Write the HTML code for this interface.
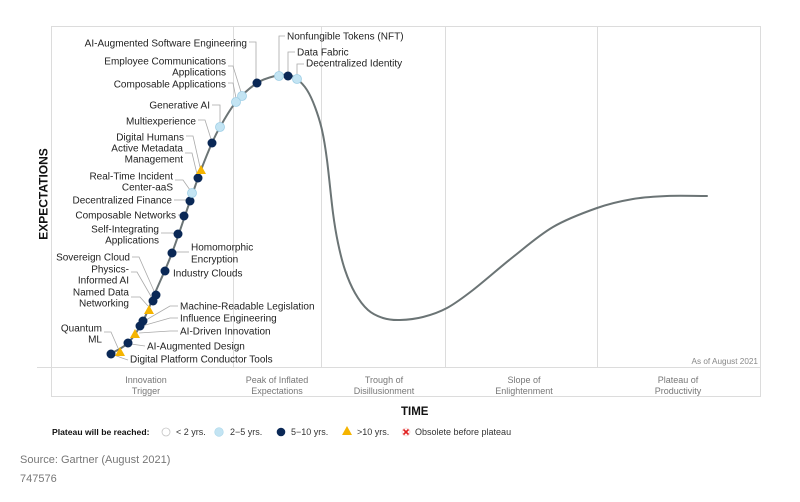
<!DOCTYPE html>
<html><head><meta charset="utf-8">
<style>
html,body{margin:0;padding:0;background:#fff;}
svg{display:block;font-family:"Liberation Sans",Arial,sans-serif;}
.l{font-size:10px;fill:#222;}
.ph{font-size:9px;fill:#777;}
.ld{stroke:#a9a9a9;stroke-width:0.8;fill:none;}
.n{fill:#0a2856;}
.c{fill:#c3e4f3;stroke:#9fcfe6;stroke-width:0.8;}
.t{fill:#f5b400;}
.lg{font-size:9px;fill:#333;}
</style></head>
<body>
<svg width="800" height="502" viewBox="0 0 800 502" xmlns="http://www.w3.org/2000/svg">
<!-- frame -->
<g stroke="#dcdcdc" stroke-width="1" fill="none">
<line x1="51" y1="26.5" x2="761" y2="26.5"/>
<line x1="51.5" y1="26" x2="51.5" y2="397"/>
<line x1="760.5" y1="26" x2="760.5" y2="397"/>
<line x1="37" y1="367.5" x2="761" y2="367.5"/>
<line x1="51" y1="396.5" x2="761" y2="396.5"/>
<line x1="233.5" y1="26" x2="233.5" y2="367"/>
<line x1="321.5" y1="26" x2="321.5" y2="367"/>
<line x1="445.5" y1="26" x2="445.5" y2="367"/>
<line x1="597.5" y1="26" x2="597.5" y2="367"/>
</g>
<!-- axis labels -->
<text x="0" y="0" transform="translate(47.5,194) rotate(-90)" text-anchor="middle" font-size="12" font-weight="bold" fill="#111">EXPECTATIONS</text>
<text x="401" y="415" font-size="11.5" font-weight="bold" fill="#111">TIME</text>
<text x="758" y="364" text-anchor="end" font-size="8.2" fill="#888">As of August 2021</text>
<!-- phase labels -->
<g class="ph" text-anchor="middle">
<text x="146" y="383">Innovation</text><text x="146" y="394">Trigger</text>
<text x="277" y="383">Peak of Inflated</text><text x="277" y="394">Expectations</text>
<text x="384" y="383">Trough of</text><text x="384" y="394">Disillusionment</text>
<text x="524" y="383">Slope of</text><text x="524" y="394">Enlightenment</text>
<text x="678" y="383">Plateau of</text><text x="678" y="394">Productivity</text>
</g>
<!-- curve -->
<path fill="none" stroke="#6b7475" stroke-width="2" stroke-linecap="round" d="M110,354 C113,352.2 122.5,348.5 128,343 C133.5,337.5 138.5,329.3 143,321 C147.5,312.7 150.2,304.3 155,293 C159.8,281.7 166.2,268.3 172,253 C177.8,237.7 185.2,214.8 190,201 C194.8,187.2 197.3,179.7 201,170 C204.7,160.3 208.8,150.2 212,143 C215.2,135.8 216,133.8 220,127 C224,120.2 229.8,109.3 236,102 C242.2,94.7 250.5,87.3 257,83 C263.5,78.7 269.8,77.3 275,76 C280.2,74.7 284.3,74.5 288,75 C291.7,75.5 293.8,76.5 297,79 C300.2,81.5 304,85.3 307,90 C310,94.7 312.5,100.3 315,107 C317.5,113.7 320,121.2 322,130 C324,138.8 325.2,146.2 327,160 C328.8,173.8 331.2,199.2 333,213 C334.8,226.8 336,233.5 338,243 C340,252.5 342.2,261.7 345,270 C347.8,278.3 351.2,286.3 355,293 C358.8,299.7 363.3,305.8 368,310 C372.7,314.2 377.7,316.3 383,318 C388.3,319.7 393.3,320.2 400,320 C406.7,319.8 415.2,319 423,317 C430.8,315 438.7,312.5 447,308 C455.3,303.5 462,298.5 473,290 C484,281.5 499.7,267.5 513,257 C526.3,246.5 539,235.2 553,227 C567,218.8 583.7,212.7 597,208 C610.3,203.3 621.3,201 633,199 C644.7,197 654.7,196.5 667,196 C679.3,195.5 693.7,196 707,196"/>
<!-- leaders -->
<g class="ld">
<path d="M249,42 H256 V79"/>
<path d="M228,66 H233 L241,92"/>
<path d="M228,83 H233 L236,98"/>
<path d="M212,105 H220 V123"/>
<path d="M198,120 H205 L211,139"/>
<path d="M186,136 H193 L200,167"/>
<path d="M185,153 H192 L197,174"/>
<path d="M175,180 H183 L190,190"/>
<path d="M174,200 H186"/>
<path d="M178,215 H181"/>
<path d="M161,233 H172 L177,234"/>
<path d="M175,252 H189"/>
<path d="M132,257 H139 L154,291"/>
<path d="M131,272 H137 L152,298"/>
<path d="M131,297 H140 L148,306"/>
<path d="M178,306 H170 L146,320"/>
<path d="M178,318 H170 L142,326"/>
<path d="M178,331 H170 L139,333"/>
<path d="M104,332 H111 L118,348"/>
<path d="M145,346 L131,344"/>
<path d="M128,360 L122,358 L114,355"/>
<path d="M279,72 V36 H285"/>
<path d="M288,72 V52 H295"/>
<path d="M297,75 V64 H304"/>
</g>
<!-- labels -->
<g class="l" text-anchor="end">
<text x="247" y="46.5">AI-Augmented Software Engineering</text>
<text x="226" y="64.5">Employee Communications</text>
<text x="226" y="75.5">Applications</text>
<text x="226" y="87.5">Composable Applications</text>
<text x="210" y="108.5">Generative AI</text>
<text x="196" y="124.5">Multiexperience</text>
<text x="184" y="140.5">Digital Humans</text>
<text x="183" y="151.5">Active Metadata</text>
<text x="183" y="162.5">Management</text>
<text x="173" y="179.5">Real-Time Incident</text>
<text x="173" y="190.5">Center-aaS</text>
<text x="172" y="203.5">Decentralized Finance</text>
<text x="176" y="218.5">Composable Networks</text>
<text x="159" y="232.5">Self-Integrating</text>
<text x="159" y="243.5">Applications</text>
<text x="130" y="260.5">Sovereign Cloud</text>
<text x="129" y="272.5">Physics-</text>
<text x="129" y="283.5">Informed AI</text>
<text x="129" y="295.5">Named Data</text>
<text x="129" y="306.5">Networking</text>
<text x="102" y="331.5">Quantum</text>
<text x="102" y="342.5">ML</text>
</g>
<g class="l">
<text x="287" y="39.5">Nonfungible Tokens (NFT)</text>
<text x="297" y="55.5">Data Fabric</text>
<text x="306" y="66.5">Decentralized Identity</text>
<text x="191" y="250.5">Homomorphic</text>
<text x="191" y="262.5">Encryption</text>
<text x="173" y="276.5">Industry Clouds</text>
<text x="180" y="309.5">Machine-Readable Legislation</text>
<text x="180" y="321.5">Influence Engineering</text>
<text x="180" y="334.5">AI-Driven Innovation</text>
<text x="147" y="349.5">AI-Augmented Design</text>
<text x="130" y="362.5">Digital Platform Conductor Tools</text>
</g>
<!-- markers -->
<g class="n">
<circle cx="257" cy="83" r="4.5"/>
<circle cx="288" cy="76" r="4.5"/>
<circle cx="212" cy="143" r="4.5"/>
<circle cx="198" cy="178" r="4.5"/>
<circle cx="190" cy="201" r="4.5"/>
<circle cx="184" cy="216" r="4.5"/>
<circle cx="178" cy="234" r="4.5"/>
<circle cx="172" cy="253" r="4.5"/>
<circle cx="165" cy="271" r="4.5"/>
<circle cx="156" cy="295" r="4.5"/>
<circle cx="153" cy="301" r="4.5"/>
<circle cx="143" cy="321" r="4.5"/>
<circle cx="140" cy="326" r="4.5"/>
<circle cx="128" cy="343" r="4.5"/>
<circle cx="111" cy="354" r="4.5"/>
</g>
<g class="c">
<circle cx="279" cy="76" r="4.5"/>
<circle cx="297" cy="79" r="4.5"/>
<circle cx="242" cy="96" r="4.5"/>
<circle cx="236" cy="102" r="4.5"/>
<circle cx="220" cy="127" r="4.5"/>
<circle cx="192" cy="193" r="4.5"/>
</g>
<g class="t">
<polygon points="201,165 206,174 196,174"/>
<polygon points="149,305 154,314 144,314"/>
<polygon points="135,329 140,338 130,338"/>
<polygon points="120,347 125,356 115,356"/>
</g>
<!-- legend -->
<text x="52" y="435" font-size="8.6" font-weight="bold" fill="#111">Plateau will be reached:</text>
<circle cx="166" cy="432" r="4" fill="#fff" stroke="#c4c4c4" stroke-width="0.8"/>
<text class="lg" x="176" y="435">&lt; 2 yrs.</text>
<circle cx="219" cy="432" r="4.3" fill="#c3e4f3" stroke="#a9d6ea" stroke-width="0.6"/>
<text class="lg" x="230" y="435">2−5 yrs.</text>
<circle cx="281" cy="432" r="4.3" fill="#0a2856"/>
<text class="lg" x="291" y="435">5−10 yrs.</text>
<polygon points="347,426 352,435 342,435" fill="#f5b400"/>
<text class="lg" x="357" y="435">&gt;10 yrs.</text>
<circle cx="406" cy="432" r="4" fill="#fff" stroke="#f2b5b5" stroke-width="0.6"/>
<path d="M403.5,429.5 L408.5,434.5 M408.5,429.5 L403.5,434.5" stroke="#e02020" stroke-width="1.6"/>
<text class="lg" x="415" y="435">Obsolete before plateau</text>
<!-- source -->
<text x="20" y="463" font-size="11" fill="#777">Source: Gartner (August 2021)</text>
<text x="20" y="482" font-size="11" fill="#777">747576</text>
</svg>
</body></html>
